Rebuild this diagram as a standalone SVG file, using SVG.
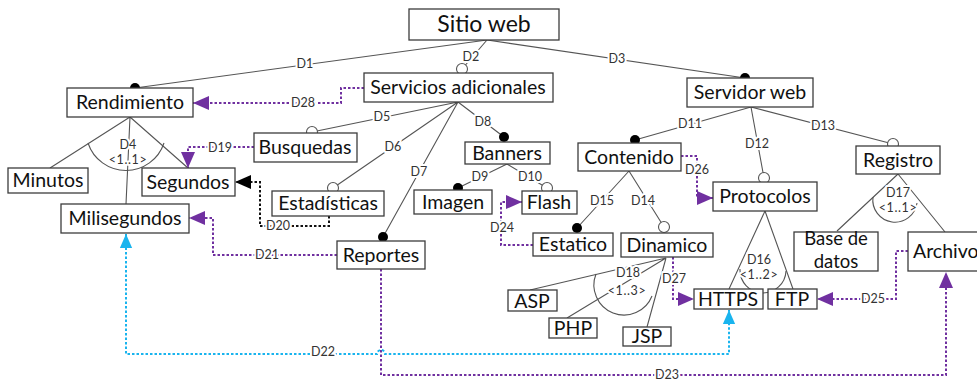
<svg xmlns="http://www.w3.org/2000/svg" width="977" height="383" viewBox="0 0 977 383">
<style>
.box{fill:#fff;stroke:#3c3c3c;stroke-width:1.3}
.t{font-family:Lato,"Open Sans",sans-serif;font-size:19.5px;fill:#111;text-anchor:middle}
.ln{fill:none;stroke:#555;stroke-width:1.1}
.pu{fill:none;stroke:#7030A0;stroke-width:2;stroke-dasharray:2.5 2}
.cy{fill:none;stroke:#19B4EE;stroke-width:2;stroke-dasharray:2.5 2}
.bk{fill:none;stroke:#111;stroke-width:2;stroke-dasharray:2.5 2}
.lbl{font-family:Lato,"Open Sans",sans-serif;font-size:12.5px;fill:#333;text-anchor:middle;stroke:#fff;stroke-width:4;paint-order:stroke;stroke-linejoin:round}
.card{letter-spacing:0.6px}
.dot{fill:#000}
.odot{fill:#fff;stroke:#555;stroke-width:1.1}
</style>
<defs>
<marker id="ap" viewBox="0 0 16 14" refX="16" refY="7" markerWidth="16" markerHeight="14" markerUnits="userSpaceOnUse" orient="auto"><path d="M0,0 L16,7 L0,14 z" fill="#7030A0"/></marker>
<marker id="ac" viewBox="0 0 16 14" refX="16" refY="7" markerWidth="14" markerHeight="14" markerUnits="userSpaceOnUse" orient="auto-start-reverse"><path d="M0,0 L16,7 L0,14 z" fill="#19B4EE"/></marker>
<marker id="ab" viewBox="0 0 16 14" refX="16" refY="7" markerWidth="16" markerHeight="14" markerUnits="userSpaceOnUse" orient="auto"><path d="M0,0 L16,7 L0,14 z" fill="#000"/></marker>
</defs>
<rect width="977" height="383" fill="#fff"/>
<g id="connectors">
<path class="ln" d="M487,40 L135,88"/>
<path class="ln" d="M487,40 L462,69"/>
<path class="ln" d="M487,40 L745,78"/>
<path class="ln" d="M130,117 L50,168 M130,117 L126,204 M130,117 L188,168"/>
<path class="ln" d="M88,143 A40,40 0 0 0 164,143"/>
<path class="ln" d="M458,102 L312,132 M458,102 L333,188 M458,102 L383,237 M458,102 L504,137"/>
<path class="ln" d="M507,164 L458,188 M507,164 L547,188"/>
<path class="ln" d="M751,107 L635,140 M751,107 L764,178 M751,107 L893,144"/>
<path class="ln" d="M629,171 L577,228 M629,171 L664,227"/>
<path class="ln" d="M666,258 L530,290 M666,258 L567,318 M666,258 L647,327"/>
<path class="ln" d="M596,274 A30,30 0 0 0 652,296"/>
<path class="ln" d="M765,211 L729,289 M765,211 L793,289"/>
<path class="ln" d="M740,269 A23,23 0 0 0 786,271"/>
<path class="ln" d="M898,174 L837,231 M898,174 L945,232"/>
<path class="ln" d="M873,197 A22,22 0 0 0 917,203"/>
<path class="pu" d="M364,88 H341 V103 H193" marker-end="url(#ap)"/>
<path class="pu" d="M254,147 H188 V168" marker-end="url(#ap)"/>
<path class="bk" d="M329,216 V226 H260 V182 H235" marker-end="url(#ab)"/>
<path class="pu" d="M337,255 H213 V218 H189" marker-end="url(#ap)"/>
<path class="pu" d="M381,269 V375 H946 V272" marker-end="url(#ap)"/>
<path class="cy" d="M126,234 V354 H377 a4,4 0 0 1 8,0 H729 V310" marker-start="url(#ac)" marker-end="url(#ac)"/>
<path class="pu" d="M533,245 H501 V202 H522" marker-end="url(#ap)"/>
<path class="pu" d="M681,156 H697 V198 H713" marker-end="url(#ap)"/>
<path class="pu" d="M673,257 V299 H694" marker-end="url(#ap)"/>
<path class="pu" d="M908,251 H896 V299 H817" marker-end="url(#ap)"/>
<circle class="dot" cx="135" cy="88" r="5"/>
<circle class="odot" cx="462" cy="69" r="5.5"/>
<circle class="dot" cx="745" cy="78" r="5"/>
<circle class="odot" cx="312" cy="132" r="5.5"/>
<circle class="odot" cx="333" cy="188" r="5.5"/>
<circle class="dot" cx="383" cy="237" r="5"/>
<circle class="dot" cx="504" cy="137" r="5"/>
<circle class="dot" cx="458" cy="188" r="5"/>
<circle class="odot" cx="547" cy="188" r="5.5"/>
<circle class="dot" cx="635" cy="140" r="5"/>
<circle class="odot" cx="764" cy="178" r="5.5"/>
<circle class="odot" cx="893" cy="144" r="5.5"/>
<circle class="dot" cx="577" cy="228" r="5"/>
<circle class="odot" cx="664" cy="227" r="5.5"/>
<text class="lbl" x="305" y="68">D1</text>
<text class="lbl" x="471" y="61">D2</text>
<text class="lbl" x="617" y="63">D3</text>
<text class="lbl" x="128" y="149">D4</text>
<text class="lbl card" x="128" y="164">&lt;1..1&gt;</text>
<text class="lbl" x="382" y="121">D5</text>
<text class="lbl" x="393" y="151">D6</text>
<text class="lbl" x="419" y="176">D7</text>
<text class="lbl" x="483" y="126">D8</text>
<text class="lbl" x="480" y="181">D9</text>
<text class="lbl" x="530" y="181">D10</text>
<text class="lbl" x="690" y="128">D11</text>
<text class="lbl" x="757" y="148">D12</text>
<text class="lbl" x="823" y="130">D13</text>
<text class="lbl" x="643" y="205">D14</text>
<text class="lbl" x="602" y="205">D15</text>
<text class="lbl" x="759" y="264">D16</text>
<text class="lbl card" x="759" y="279">&lt;1..2&gt;</text>
<text class="lbl" x="898" y="197">D17</text>
<text class="lbl card" x="898" y="212">&lt;1..1&gt;</text>
<text class="lbl" x="628" y="277">D18</text>
<text class="lbl card" x="627" y="295">&lt;1..3&gt;</text>
<text class="lbl" x="220" y="152">D19</text>
<text class="lbl" x="278" y="230">D20</text>
<text class="lbl" x="267" y="259">D21</text>
<text class="lbl" x="323" y="356">D22</text>
<text class="lbl" x="667" y="379">D23</text>
<text class="lbl" x="502" y="232">D24</text>
<text class="lbl" x="873" y="303">D25</text>
<text class="lbl" x="697" y="174">D26</text>
<text class="lbl" x="674" y="283">D27</text>
<text class="lbl" x="303" y="107">D28</text>
</g>
<g id="sitio-web"><rect class="box" x="409" y="9" width="150" height="31"/><text class="t" x="484" y="32" style="font-size:23px">Sitio web</text></g>
<g id="rendimiento"><rect class="box" x="67" y="88" width="126" height="29"/><text class="t" x="130" y="109">Rendimiento</text></g>
<g id="servicios-adicionales"><rect class="box" x="364" y="73" width="189" height="29"/><text class="t" x="458" y="94">Servicios adicionales</text></g>
<g id="servidor-web"><rect class="box" x="687" y="78" width="126" height="29"/><text class="t" x="750" y="99">Servidor web</text></g>
<g id="minutos"><rect class="box" x="8" y="168" width="80" height="25"/><text class="t" x="48" y="187">Minutos</text></g>
<g id="segundos"><rect class="box" x="142" y="168" width="93" height="28"/><text class="t" x="188" y="189">Segundos</text></g>
<g id="milisegundos"><rect class="box" x="61" y="204" width="128" height="29"/><text class="t" x="125" y="225">Milisegundos</text></g>
<g id="busquedas"><rect class="box" x="254" y="133" width="103" height="29"/><text class="t" x="305" y="154">Busquedas</text></g>
<g id="estadisticas"><rect class="box" x="272" y="191" width="112" height="25"/><text class="t" x="328" y="210">Estadísticas</text></g>
<g id="reportes"><rect class="box" x="337" y="241" width="88" height="28"/><text class="t" x="381" y="262">Reportes</text></g>
<g id="banners"><rect class="box" x="465" y="142" width="85" height="22"/><text class="t" x="507" y="160">Banners</text></g>
<g id="imagen"><rect class="box" x="414" y="190" width="78" height="24"/><text class="t" x="453" y="209">Imagen</text></g>
<g id="flash"><rect class="box" x="522" y="191" width="55" height="23"/><text class="t" x="549" y="209">Flash</text></g>
<g id="contenido"><rect class="box" x="578" y="143" width="103" height="28"/><text class="t" x="629" y="164">Contenido</text></g>
<g id="estatico"><rect class="box" x="533" y="233" width="80" height="23"/><text class="t" x="573" y="251">Estatico</text></g>
<g id="dinamico"><rect class="box" x="621" y="233" width="92" height="24"/><text class="t" x="667" y="252">Dinamico</text></g>
<g id="protocolos"><rect class="box" x="713" y="182" width="104" height="29"/><text class="t" x="765" y="203">Protocolos</text></g>
<g id="registro"><rect class="box" x="856" y="146" width="84" height="28"/><text class="t" x="898" y="167">Registro</text></g>
<g id="base-de-datos"><rect class="box" x="794" y="232" width="84" height="39"/><text class="t" x="836" y="245" style="font-size:18.5px">Base de</text><text class="t" x="836" y="268" style="font-size:18.5px">datos</text></g>
<g id="archivo"><rect class="box" x="908" y="232" width="75" height="39"/><text class="t" x="913" y="258" style="text-anchor:start">Archivo</text></g>
<g id="https"><rect class="box" x="694" y="289" width="69" height="20"/><text class="t" x="728" y="306">HTTPS</text></g>
<g id="ftp"><rect class="box" x="768" y="289" width="49" height="20"/><text class="t" x="792" y="306">FTP</text></g>
<g id="asp"><rect class="box" x="508" y="290" width="49" height="21"/><text class="t" x="532" y="308">ASP</text></g>
<g id="php"><rect class="box" x="549" y="318" width="48" height="20"/><text class="t" x="573" y="335">PHP</text></g>
<g id="jsp"><rect class="box" x="623" y="327" width="48" height="19"/><text class="t" x="647" y="343">JSP</text></g>
</svg>
